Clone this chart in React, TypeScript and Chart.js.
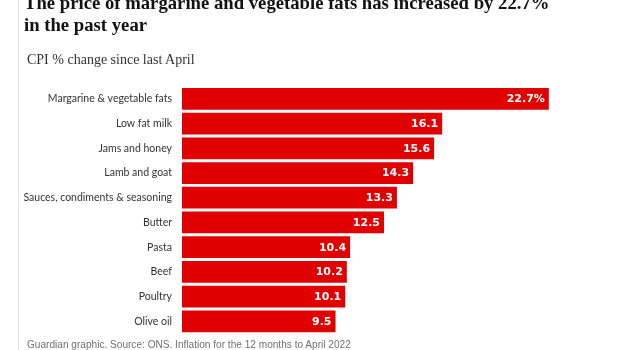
import React, { useEffect, useRef } from "react";
import { Chart, registerables } from "chart.js";

Chart.register(...registerables);

const categories = [
  "Margarine & vegetable fats",
  "Low fat milk",
  "Jams and honey",
  "Lamb and goat",
  "Sauces, condiments & seasoning",
  "Butter",
  "Pasta",
  "Beef",
  "Poultry",
  "Olive oil",
];
const values = [22.7, 16.1, 15.6, 14.3, 13.3, 12.5, 10.4, 10.2, 10.1, 9.5];
const valueLabels = ["22.7%", "16.1", "15.6", "14.3", "13.3", "12.5", "10.4", "10.2", "10.1", "9.5"];

const title = ["The price of margarine and vegetable fats has increased by 22.7%", "in the past year"];
const subtitle = "CPI % change since last April";
const footer = "Guardian graphic. Source: ONS. Inflation for the 12 months to April 2022";

const valueLabelPlugin = {
  id: "valueLabels",
  afterDatasetsDraw(chart: any) {
    const ctx = chart.ctx;
    const meta = chart.getDatasetMeta(0);
    ctx.save();
    ctx.font = "bold 11px 'DejaVu Sans'";
    ctx.fillStyle = "#ffffff";
    ctx.textAlign = "right";
    ctx.textBaseline = "middle";
    meta.data.forEach((bar: any, i: number) => {
      ctx.fillText(valueLabels[i], bar.x - 4, bar.y + 0.5);
    });
    ctx.restore();
  },
};

export default function App() {
  const ref = useRef<HTMLCanvasElement | null>(null);
  useEffect(() => {
    if (!ref.current) return;
    const chart = new Chart(ref.current, {
      type: "bar",
      data: {
        labels: categories,
        datasets: [
          {
            data: values,
            backgroundColor: "#e00000",
            borderWidth: 0,
            barPercentage: 0.88,
            categoryPercentage: 1,
          },
        ],
      },
      options: {
        indexAxis: "y",
        animation: false,
        responsive: false,
        maintainAspectRatio: false,
        devicePixelRatio: 1,
        layout: { padding: { top: 86.5, bottom: 13.8, left: 0, right: 34 } },
        plugins: { legend: { display: false }, tooltip: { enabled: false } },
        scales: {
          x: { display: false, min: 0, max: 25 },
          y: {
            grid: { display: false, drawTicks: false, tickLength: 0 },
            border: { display: false },
            afterFit: (scale: any) => {
              scale.width = 182;
            },
            ticks: {
              padding: 10,
              color: "#333333",
              font: { family: "Lato", size: 10.5 },
            },
          },
        },
      },
      plugins: [valueLabelPlugin],
    });
    return () => chart.destroy();
  }, []);

  return (
    <div style={{ position: "absolute", left: 0, top: 0, width: 620, height: 350, overflow: "hidden", background: "#fff" }}>
      <div style={{ position: "absolute", left: 18, top: 0, width: 1, height: 350, background: "#e3e3e3" }} />
      <canvas ref={ref} width={620} height={350} style={{ position: "absolute", left: 0, top: 0 }} />
      <div
        style={{
          position: "absolute",
          left: 24,
          top: -8,
          font: "bold 18.7px/22px 'Liberation Serif'",
          color: "#121212",
          whiteSpace: "nowrap",
        }}
      >
        {title[0]}
        <br />
        {title[1]}
      </div>
      <div
        style={{
          position: "absolute",
          left: 27,
          top: 52,
          font: "14px/16px 'Liberation Serif'",
          color: "#333",
          whiteSpace: "nowrap",
        }}
      >
        {subtitle}
      </div>
      <div
        style={{
          position: "absolute",
          left: 27,
          top: 338.5,
          font: "10.1px/12px 'Liberation Sans'",
          color: "#707070",
          whiteSpace: "nowrap",
        }}
      >
        {footer}
      </div>
    </div>
  );
}
